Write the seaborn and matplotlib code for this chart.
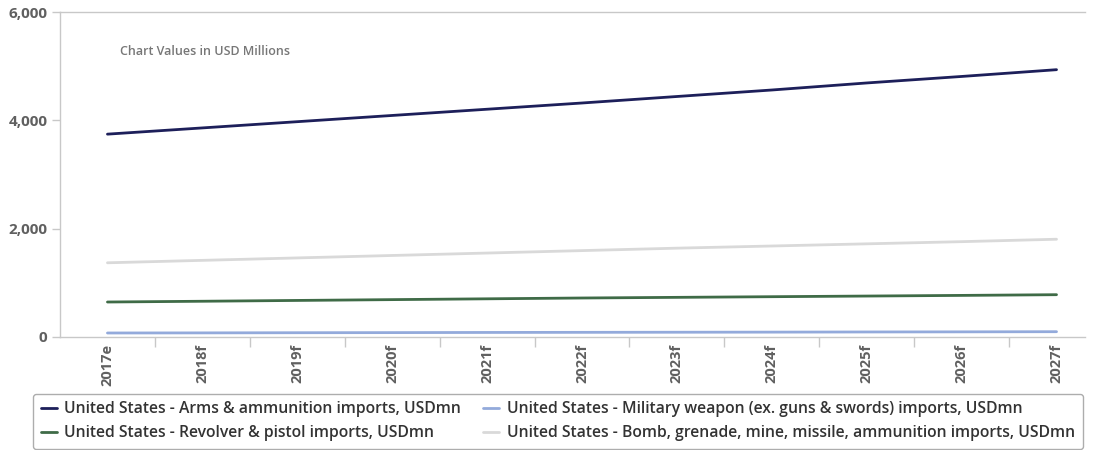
import matplotlib
matplotlib.use("Agg")
import matplotlib.pyplot as plt
from matplotlib.ticker import FixedLocator, FuncFormatter
import pandas as pd
import seaborn as sns

years = ["2017e", "2018f", "2019f", "2020f", "2021f", "2022f",
         "2023f", "2024f", "2025f", "2026f", "2027f"]

arms = [3745, 3860, 3975, 4090, 4205, 4320, 4440, 4560, 4690, 4810, 4935]
military = [74, 76, 79, 81, 84, 86, 88, 90, 93, 95, 98]
revolver = [646, 660, 675, 690, 705, 720, 732, 744, 756, 768, 781]
bomb = [1370, 1415, 1460, 1505, 1550, 1595, 1640, 1680, 1720, 1760, 1805]

series_names = [
    "United States - Arms & ammunition imports, USDmn",
    "United States - Military weapon (ex. guns & swords) imports, USDmn",
    "United States - Revolver & pistol imports, USDmn",
    "United States - Bomb, grenade, mine, missile, ammunition imports, USDmn",
]
series_values = [arms, military, revolver, bomb]
colors = ["#1d1f5a", "#93aadb", "#3f6b47", "#d9d9d9"]

rows = []
for name, vals in zip(series_names, series_values):
    for i, (yr, v) in enumerate(zip(years, vals)):
        rows.append({"idx": i, "year": yr, "value": v, "series": name})
df = pd.DataFrame(rows)

sns.set_theme(style="white")
plt.rcParams["font.family"] = ["Open Sans", "DejaVu Sans"]

fig = plt.figure(figsize=(10.95, 4.5), dpi=100)
ax = fig.add_axes([60 / 1095, 1 - 337 / 450, (1085 - 60) / 1095, (337 - 12) / 450])

sns.lineplot(data=df, x="idx", y="value", hue="series", hue_order=series_names,
             palette=colors, linewidth=2, ax=ax, legend=False)

ax.set_xlim(-0.5, 10.3)
ax.set_ylim(0, 6000)
ax.set_xlabel("")
ax.set_ylabel("")

grey = "#c8c8c8"
for side in ["left", "bottom", "top"]:
    ax.spines[side].set_visible(True)
    ax.spines[side].set_color(grey)
    ax.spines[side].set_linewidth(1)
ax.spines["right"].set_visible(False)

ax.set_yticks([0, 2000, 4000, 6000])
ax.yaxis.set_major_formatter(FuncFormatter(lambda v, p: f"{int(v):,}"))
ax.tick_params(axis="y", which="major", left=True, length=6, width=1, color=grey,
               labelsize=11, labelcolor="#606060", pad=3)
for lab in ax.get_yticklabels():
    lab.set_fontweight("bold")

ax.set_xticks(range(len(years)))
ax.set_xticklabels(years, rotation=90, fontsize=10.5, color="#606060", fontweight="bold")
ax.tick_params(axis="x", which="major", bottom=False, length=0, pad=5)
ax.xaxis.set_minor_locator(FixedLocator([i + 0.5 for i in range(len(years) - 1)]))
ax.tick_params(axis="x", which="minor", bottom=True, length=7, width=1, color=grey)

ax.text(0.059, 0.877, "Chart Values in USD Millions", transform=ax.transAxes,
        fontsize=9, color="#777777", fontweight="semibold", ha="left", va="center")

handles = ax.get_lines()[:4]
order = [0, 2, 1, 3]
leg = fig.legend([handles[i] for i in order], [series_names[i] for i in order],
                 ncol=2, loc="lower left", mode="expand",
                 bbox_to_anchor=(33 / 1095, 0.002, 1050 / 1095, 0.12),
                 frameon=True, fancybox=True, fontsize=11.3, handlelength=1.0,
                 handletextpad=0.5, columnspacing=0.9, labelspacing=0.5,
                 borderpad=0.5, borderaxespad=0)
leg.get_frame().set_edgecolor("#999999")
leg.get_frame().set_linewidth(1)
for t in leg.get_texts():
    t.set_color("#333333")
    t.set_fontweight("semibold")

fig.savefig("out.png", dpi=100)
